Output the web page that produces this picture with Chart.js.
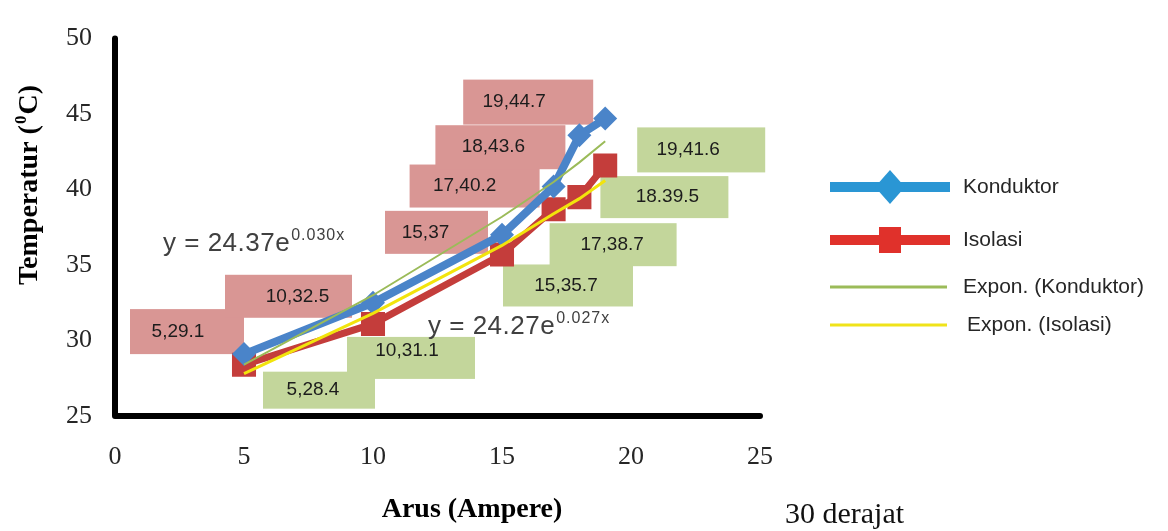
<!DOCTYPE html>
<html>
<head>
<meta charset="utf-8">
<script src="https://cdn.jsdelivr.net/npm/chart.js@4.4.1/dist/chart.umd.min.js"></script>
<style>
  html, body { margin: 0; padding: 0; background: #fff; }
  #wrap { width: 1168px; height: 531px; }
</style>
</head>
<body>
<div id="wrap"><canvas id="myChart" width="1168" height="531"></canvas></div>
<script>
// measured values (arus in ampere, temperatur in deg C)
const arus = [5, 10, 15, 17, 18, 19];
const konduktor = [29.1, 32.5, 37, 40.2, 43.6, 44.7];
const isolasi = [28.4, 31.1, 35.7, 38.7, 39.5, 41.6];
// exponential trendlines as they run through the same x values
const exponKonduktor = [28.4, 33.0, 38.2, 40.5, 41.8, 43.2];
const exponIsolasi = [27.8, 31.8, 36.3, 38.4, 39.4, 40.6];

const konduktorLabels = ["5,29.1", "10,32.5", "15,37", "17,40.2", "18,43.6", "19,44.7"];
const isolasiLabels = ["5,28.4", "10,31.1", "15,35.7", "17,38.7", "18.39.5", "19,41.6"];
const equations = [["y = 24.37e", "0.030x"], ["y = 24.27e", "0.027x"]];

const xTicks = [0, 5, 10, 15, 20, 25];
const yTicks = [25, 30, 35, 40, 45, 50];

// label box around each point: [left, top, right, bottom, textDx, textDy] in px from the point
const konduktorBoxes = [
  [-114, -45, 0, 0, -9, 0], [-148, -28, -21, 15, 9, 0], [-117, -24, -14, 19, -11, 0],
  [-144, -22, -14, 21, -10, 0], [-144, -10, -14, 34, -7, 0], [-142, -39, -12, 6, -14, 0]
];
const isolasiBoxes = [
  [19, 7, 131, 44, -6, 0], [-26, 13, 102, 55, -4, -7], [1, 10, 131, 52, -2, 0],
  [-4, 14, 123, 57, -1, 0], [21, -21, 149, 21, 3, 0], [32, -38, 160, 7, -13, 0]
];
const equationPos = [[163, 251], [428, 334]];

const serif = '"Liberation Serif", "Times New Roman", serif';
const sans = '"Liberation Sans", Arial, sans-serif';

function pts(xs, ys) {
  return xs.map((x, i) => ({ x: x, y: ys[i] }));
}

const boxPlugin = {
  id: 'labelBoxes',
  beforeDatasetsDraw(chart) {
    const ctx = chart.ctx;
    const sx = chart.scales.x, sy = chart.scales.y;
    const groups = [
      [konduktor, konduktorLabels, konduktorBoxes, '#d99694'],
      [isolasi, isolasiLabels, isolasiBoxes, '#c3d69b']
    ];
    ctx.save();
    ctx.font = '19px ' + sans;
    ctx.textAlign = 'center';
    ctx.textBaseline = 'middle';
    groups.forEach(([vals, labels, boxes, color]) => {
      vals.forEach((v, i) => {
        const px = sx.getPixelForValue(arus[i]);
        const py = sy.getPixelForValue(v);
        const b = boxes[i];
        ctx.fillStyle = color;
        ctx.fillRect(px + b[0], py + b[1], b[2] - b[0], b[3] - b[1]);
        ctx.fillStyle = '#1c1c1c';
        ctx.fillText(labels[i], px + (b[0] + b[2]) / 2 + b[4], py + (b[1] + b[3]) / 2 + b[5]);
      });
    });

    // axis lines
    const a = chart.chartArea;
    ctx.beginPath();
    ctx.moveTo(a.left, a.top);
    ctx.lineTo(a.left, a.bottom);
    ctx.lineTo(a.right, a.bottom);
    ctx.lineWidth = 6;
    ctx.lineCap = 'round';
    ctx.lineJoin = 'round';
    ctx.strokeStyle = '#000';
    ctx.stroke();
    ctx.restore();
  }
};

const textPlugin = {
  id: 'extraText',
  afterDraw(chart) {
    const ctx = chart.ctx;
    ctx.save();

    // trendline equations
    ctx.fillStyle = '#404040';
    ctx.textBaseline = 'alphabetic';
    ctx.textAlign = 'left';
    equations.forEach((eq, i) => {
      const [x, y] = equationPos[i];
      ctx.font = '26px ' + sans;
      ctx.letterSpacing = '0.5px';
      ctx.fillText(eq[0], x, y);
      const w = ctx.measureText(eq[0]).width;
      ctx.font = '16px ' + sans;
      ctx.letterSpacing = '1px';
      ctx.fillText(eq[1], x + w + 1, y - 11);
    });
    ctx.letterSpacing = '0px';

    // y title, rotated, with raised 0
    ctx.fillStyle = '#000';
    ctx.translate(30, 185);
    ctx.rotate(-Math.PI / 2);
    const big = 'bold 28px ' + serif, small = 'bold 17px ' + serif;
    ctx.font = big;
    const w1 = ctx.measureText('Temperatur (').width;
    const w3 = ctx.measureText('C)').width;
    ctx.font = small;
    const w2 = ctx.measureText('0').width + 2;
    let x0 = -(w1 + w2 + w3) / 2;
    ctx.textBaseline = 'middle';
    ctx.font = big;
    ctx.fillText('Temperatur (', x0, 0);
    ctx.font = small;
    ctx.fillText('0', x0 + w1 + 1, -8);
    ctx.font = big;
    ctx.fillText('C)', x0 + w1 + w2, 0);
    ctx.setTransform(1, 0, 0, 1, 0, 0);

    // x title and note
    ctx.textBaseline = 'middle';
    ctx.textAlign = 'center';
    ctx.font = 'bold 28px ' + serif;
    ctx.fillText('Arus (Ampere)', 472, 510);
    ctx.textAlign = 'left';
    ctx.font = '30px ' + serif;
    ctx.fillStyle = '#111';
    ctx.fillText('30 derajat', 785, 515);

    // legend
    const rows = [
      { y: 187, color: '#2a96d4', width: 10, marker: 'diamond', tx: 963 },
      { y: 240, color: '#e0312b', width: 10, marker: 'square', tx: 963 },
      { y: 287, color: '#9bbb59', width: 3, marker: null, tx: 963 },
      { y: 325, color: '#f0e31a', width: 3, marker: null, tx: 967 }
    ];
    ctx.font = '21px ' + sans;
    rows.forEach((r, i) => {
      ctx.strokeStyle = r.color;
      ctx.lineWidth = r.width;
      ctx.lineCap = 'butt';
      ctx.beginPath();
      ctx.moveTo(830, r.y);
      ctx.lineTo(r.marker ? 950 : 947, r.y);
      ctx.stroke();
      ctx.fillStyle = r.color;
      if (r.marker === 'diamond') {
        ctx.beginPath();
        ctx.moveTo(890, r.y - 17);
        ctx.lineTo(905, r.y);
        ctx.lineTo(890, r.y + 17);
        ctx.lineTo(875, r.y);
        ctx.closePath();
        ctx.fill();
      } else if (r.marker === 'square') {
        ctx.fillRect(879, r.y - 13, 22, 26);
      }
      ctx.fillStyle = '#262626';
      ctx.fillText(chart.data.datasets[i].label, r.tx, r.y);
    });
    ctx.restore();
  }
};

const ctx = document.getElementById("myChart").getContext("2d");
const myChart = new Chart(ctx, {
  type: 'scatter',
  data: {
    datasets: [
      {
        label: 'Konduktor',
        data: pts(arus, konduktor),
        showLine: true,
        borderColor: '#4a84c9',
        backgroundColor: '#4a84c9',
        borderWidth: 8,
        pointStyle: 'rectRot',
        pointRadius: 12,
        pointBorderWidth: 0,
        order: 2
      },
      {
        label: 'Isolasi',
        data: pts(arus, isolasi),
        showLine: true,
        borderColor: '#c43d3b',
        backgroundColor: '#c43d3b',
        borderWidth: 7,
        pointStyle: 'rect',
        pointRadius: 17,
        pointBorderWidth: 0,
        order: 3
      },
      {
        label: 'Expon. (Konduktor)',
        data: pts(arus, exponKonduktor),
        showLine: true,
        borderColor: '#9bbb59',
        borderWidth: 2,
        pointRadius: 0,
        order: 1
      },
      {
        label: 'Expon. (Isolasi)',
        data: pts(arus, exponIsolasi),
        showLine: true,
        borderColor: '#f2e40c',
        borderWidth: 3,
        pointRadius: 0,
        order: 0
      }
    ]
  },
  options: {
    responsive: false,
    animation: false,
    devicePixelRatio: 1,
    layout: { padding: { top: 23, right: 408, bottom: 0, left: 0 } },
    plugins: {
      legend: { display: false },
      tooltip: { enabled: false }
    },
    scales: {
      x: {
        type: 'linear',
        min: 0,
        max: 25,
        afterBuildTicks: s => { s.ticks = xTicks.map(v => ({ value: v })); },
        afterFit: s => { s.height = 115; },
        grid: { display: false, drawTicks: false },
        border: { display: false },
        ticks: { padding: 26, color: '#262626', font: { family: serif, size: 26 } }
      },
      y: {
        type: 'linear',
        min: 25,
        max: 50,
        afterBuildTicks: s => { s.ticks = yTicks.map(v => ({ value: v })); },
        afterFit: s => { s.width = 115; },
        grid: { display: false, drawTicks: false },
        border: { display: false },
        ticks: { padding: 23, color: '#262626', font: { family: serif, size: 26 } }
      }
    }
  },
  plugins: [boxPlugin, textPlugin]
});
</script>
</body>
</html>
